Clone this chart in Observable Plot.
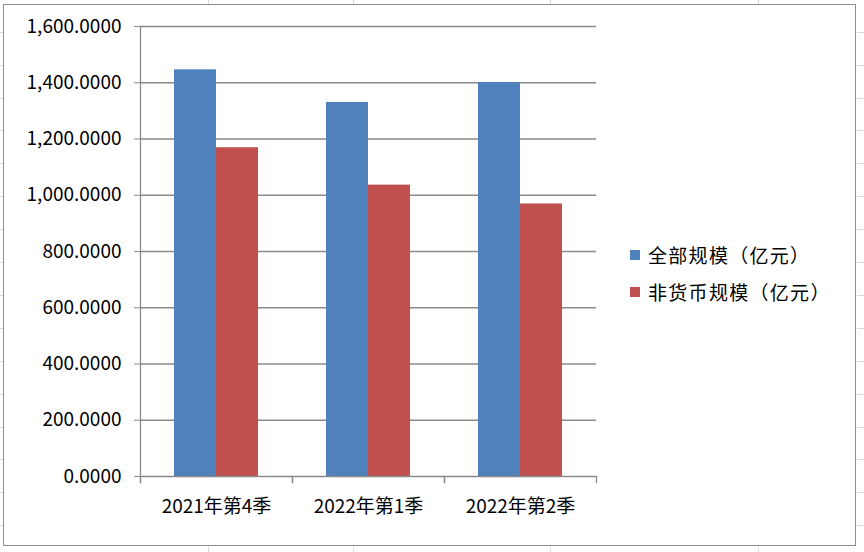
<!DOCTYPE html>
<html>
<head>
<meta charset="utf-8">
<script src="https://cdn.jsdelivr.net/npm/d3@7"></script>
<script src="https://cdn.jsdelivr.net/npm/@observablehq/plot@0.6"></script>
<style>
  html, body { margin: 0; padding: 0; background: #fff; }
  #wrap { position: relative; width: 864px; height: 552px; overflow: hidden; }
  #chartframe { position: absolute; left: 3px; top: 4px; width: 851px; height: 540px; border: 1.5px solid #8e8e8e; box-sizing: content-box; }
  .sheet { position: absolute; background: #d4dae3; }
  #plot { position: absolute; left: 0; top: 0; }
  #legend { position: absolute; left: 630px; top: 238px; font-family: 'Noto Sans CJK SC', sans-serif; font-size: 19px; letter-spacing: 1.3px; color: #000; }
  .item { position: relative; height: 37px; }
  .sw { position: absolute; left: 0; top: 12px; width: 10px; height: 10px; }
  .lbl { position: absolute; left: 18px; top: 0; line-height: 33px; white-space: nowrap; }
</style>
</head>
<body>
<div id="wrap">
  <div id="chartframe"></div>
  <div id="plot"></div>
  <div id="legend"></div>
</div>
<script>
const categories = ["2021年第4季", "2022年第1季", "2022年第2季"];
const series = ["全部规模（亿元）", "非货币规模（亿元）"];
const totalScale = [1446, 1330, 1401];
const nonMonetaryScale = [1169, 1036, 969];
const colors = ["#4F81BD", "#C0504D"];
const yTicks = [0, 200, 400, 600, 800, 1000, 1200, 1400, 1600];

const table = categories.flatMap((c, i) => [
  {cat: c, series: series[0], value: totalScale[i]},
  {cat: c, series: series[1], value: nonMonetaryScale[i]}
]);

const gray = "#8a8a8a";

const chart = Plot.plot({
  width: 864,
  height: 552,
  marginLeft: 139,
  marginRight: 267,
  marginTop: 26,
  marginBottom: 76,
  style: {fontFamily: "'Noto Sans CJK SC', sans-serif", fontSize: "19px", color: "#000", background: "transparent", overflow: "visible"},
  fx: {domain: categories, padding: 0, label: null},
  x: {domain: series, paddingInner: 0, paddingOuter: 0.776, axis: null},
  y: {domain: [0, 1600], label: null},
  color: {domain: series, range: colors},
  marks: [
    Plot.gridY(yTicks.slice(1), {stroke: gray, strokeOpacity: 1, strokeWidth: 1.3}),
    Plot.barY(table, {fx: "cat", x: "series", y: "value", fill: "series"}),
    Plot.ruleY([0], {stroke: gray, strokeWidth: 1.3}),
    Plot.frame({anchor: "left", facetAnchor: "left", stroke: gray, strokeWidth: 1.3, insetBottom: -6}),
    Plot.frame({anchor: "left", stroke: gray, strokeWidth: 1.3, insetTop: 450, insetBottom: -6}),
    Plot.frame({anchor: "right", stroke: gray, strokeWidth: 1.3, insetTop: 450, insetBottom: -6}),
    Plot.axisY(yTicks, {anchor: "left", tickFormat: d3.format(",.4f"), tickSize: 6, tickPadding: 13, stroke: gray, fill: "#000", label: null}),
    Plot.axisFx({anchor: "bottom", tickSize: 0, tickPadding: 23, fill: "#000", label: null})
  ]
});
document.getElementById("plot").appendChild(chart);

// legend
const legend = document.getElementById("legend");
series.forEach((s, i) => {
  const item = document.createElement("div");
  item.className = "item";
  item.innerHTML = `<div class="sw" style="background:${colors[i]}"></div><div class="lbl">${s}</div>`;
  legend.appendChild(item);
});

// spreadsheet gridlines visible around the chart object
const wrap = document.getElementById("wrap");
const rowLines = [31.7, 64.6, 97.5, 130.4, 163.3, 196.2, 229.1, 262, 294.9, 327.8, 360.7, 393.6, 426.5, 459.4, 492.3, 525.2];
const colLines = [208, 353, 550, 758];
rowLines.forEach(y => {
  for (const [x, w] of [[0, 3], [857, 7]]) {
    const d = document.createElement("div");
    d.className = "sheet";
    d.style.cssText = `left:${x}px;top:${y}px;width:${w}px;height:1px`;
    wrap.insertBefore(d, wrap.firstChild);
  }
});
colLines.forEach(x => {
  for (const [y, h] of [[0, 4], [547, 5]]) {
    const d = document.createElement("div");
    d.className = "sheet";
    d.style.cssText = `left:${x}px;top:${y}px;width:1px;height:${h}px`;
    wrap.insertBefore(d, wrap.firstChild);
  }
});
</script>
</body>
</html>
